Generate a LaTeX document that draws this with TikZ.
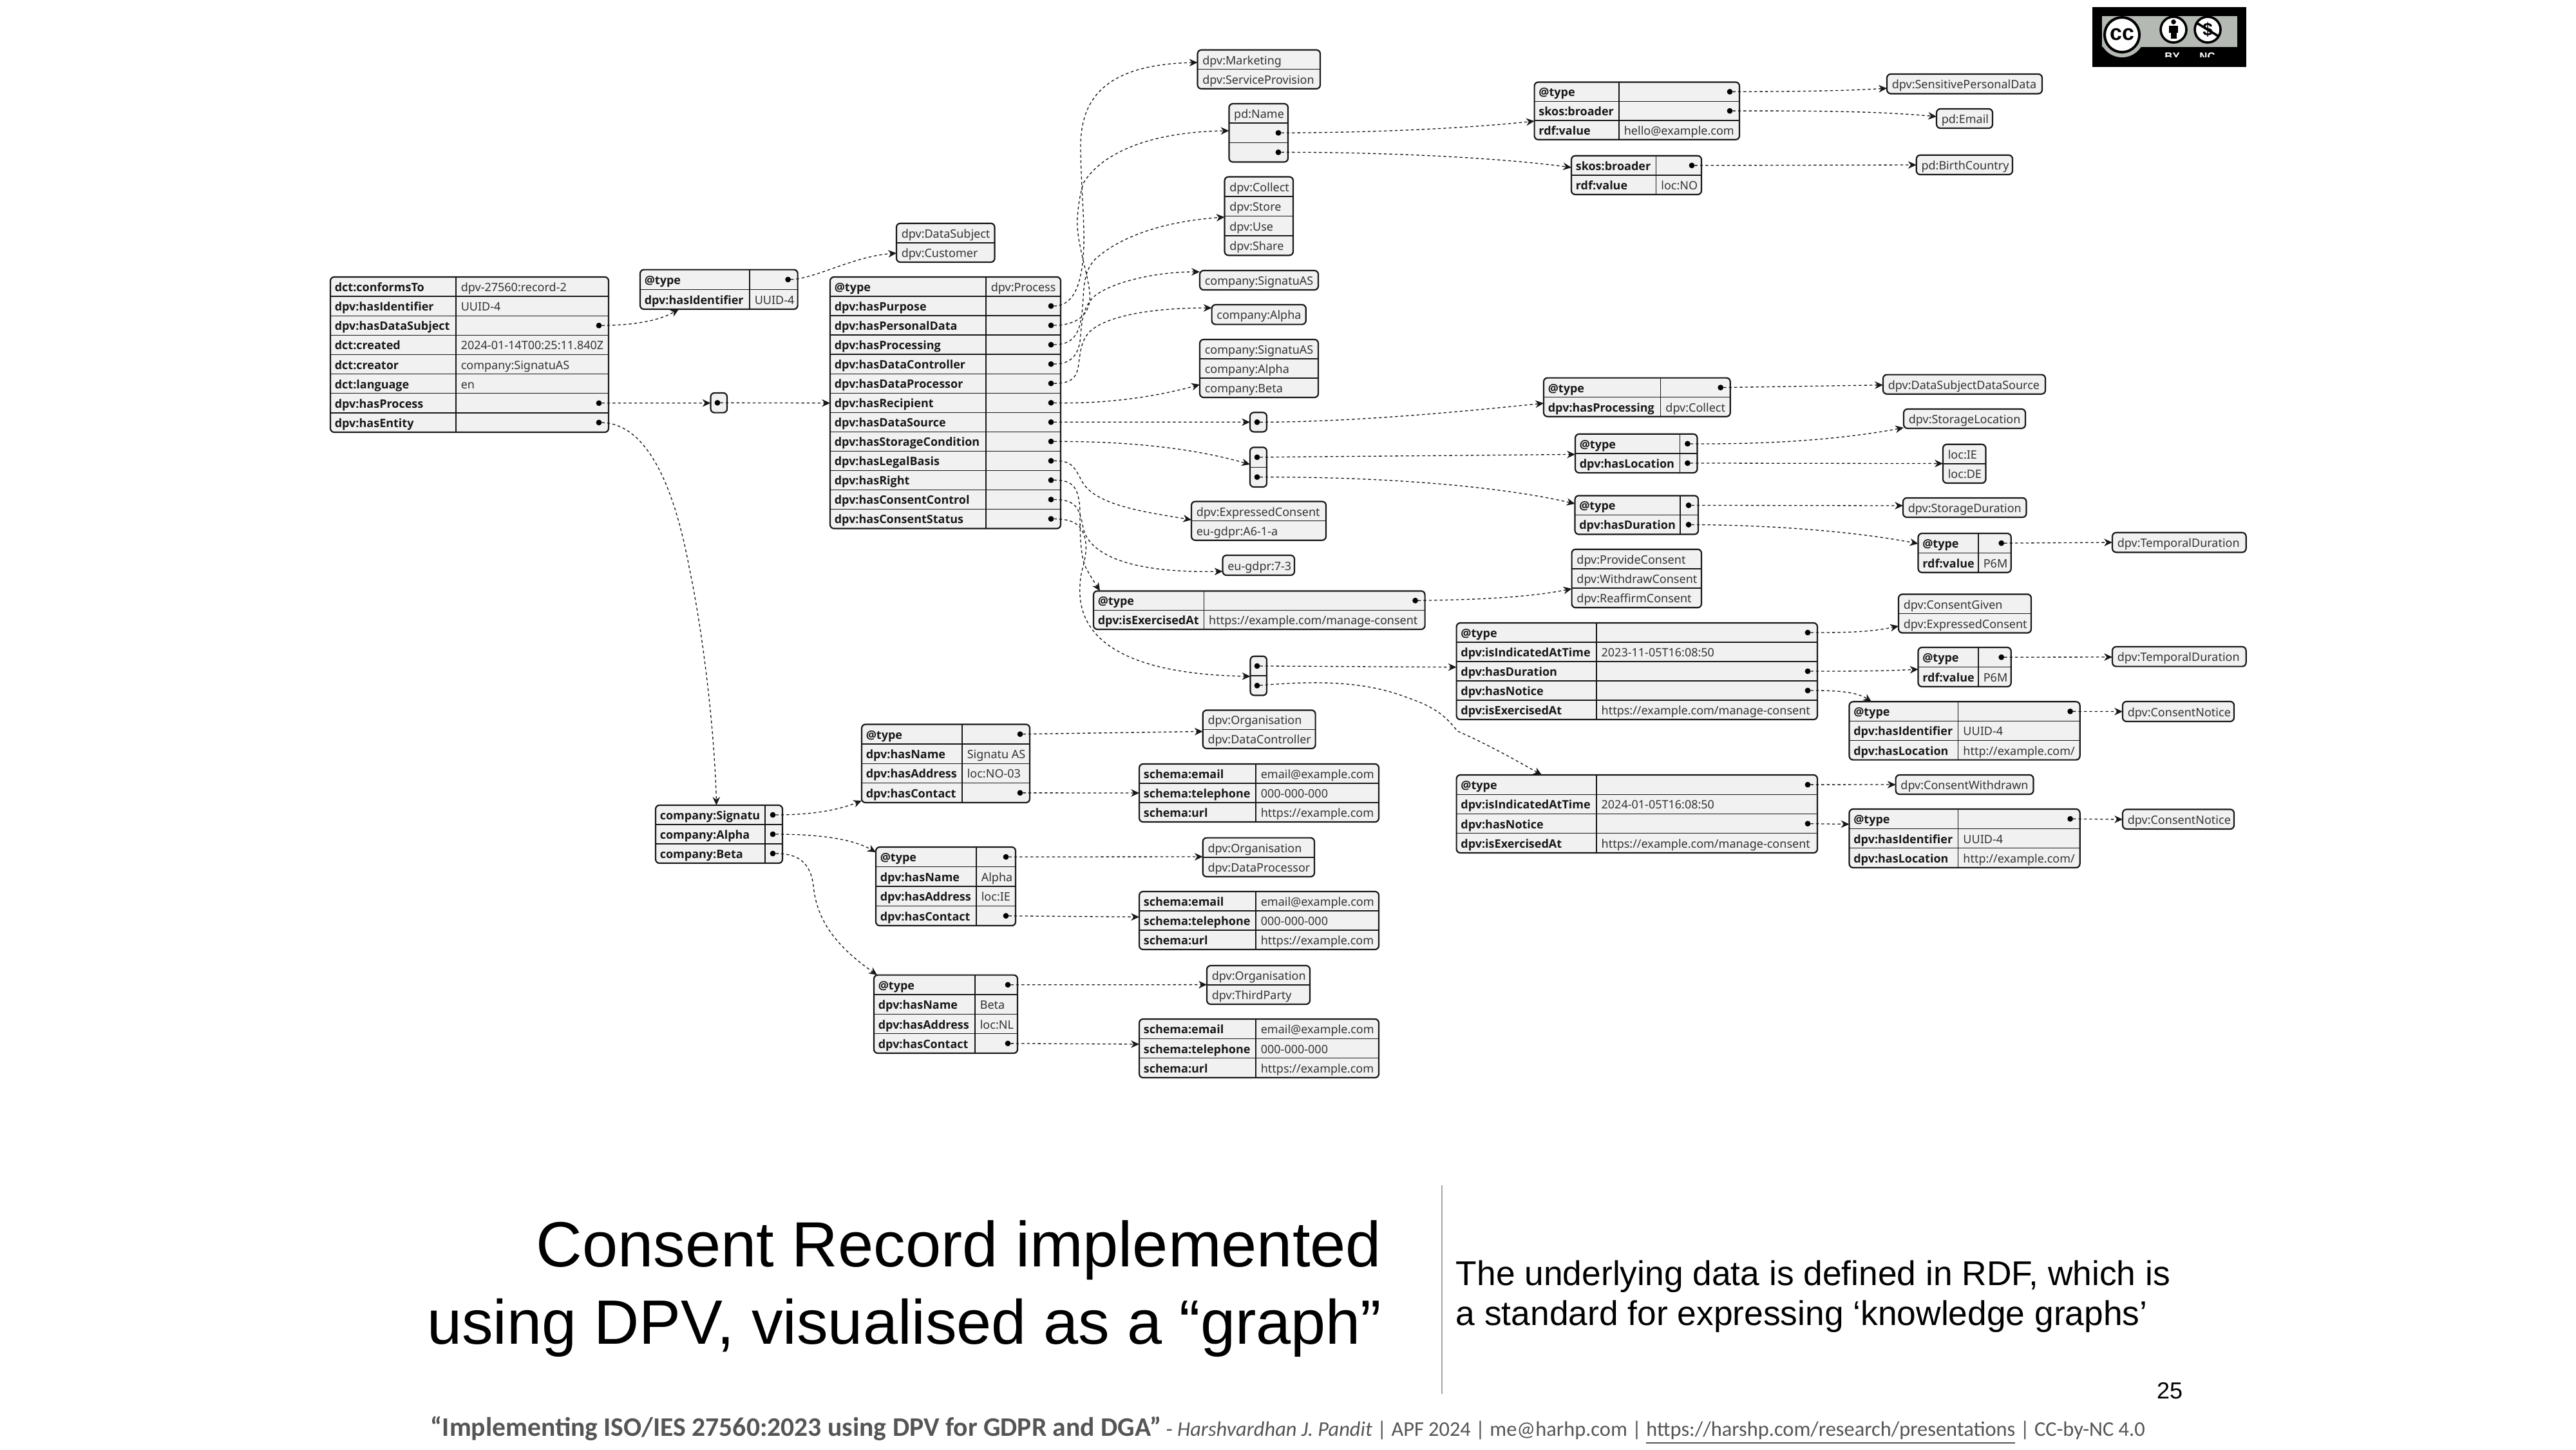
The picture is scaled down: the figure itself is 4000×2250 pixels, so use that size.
\documentclass[tikz,border=0pt]{standalone}
\usepackage{fontspec}
\usetikzlibrary{arrows.meta,calc}
\setmainfont{Noto Sans}
\newfontfamily\keyf{Open Sans}[BoldFont=* Bold]
\newfontfamily\titlefont{Liberation Sans}
\newfontfamily\footfont{Carlito}
\definecolor{ink}{HTML}{181818}
\definecolor{valc}{HTML}{333333}
\definecolor{cellfill}{HTML}{F1F1F1}
\definecolor{ccgrey}{HTML}{B4BAB3}
\definecolor{footc}{HTML}{555555}
\tikzset{
  boxn/.style={draw=ink,fill=cellfill,line width=0.55pt,rounded corners=1.5pt,inner sep=0pt,outer sep=0pt,shape=rectangle},
  sepl/.style={draw=ink,line width=0.34pt},
  keytxt/.style={anchor=base west,inner sep=0pt,text=ink,font=\keyf\fontsize{4.5}{6}\selectfont\bfseries},
  valtxt/.style={anchor=base west,inner sep=0pt,text=valc,font=\fontsize{4.5}{6}\selectfont},
  dotn/.style={circle,fill=black,draw=none,minimum size=2.2pt,inner sep=0pt,outer sep=0pt},
  conn/.style={draw=ink,line width=0.33pt,dash pattern=on 1.1pt off 1.0pt,-{Stealth[length=3.2pt,width=2.9pt,inset=1pt]}},
}
\newcommand\Tbl[8]{%
  \pgfmathsetmacro\rowH{(#6-#5)/#7}%
  \node[boxn,minimum width={(#4-#2)*0.25pt},minimum height={(#6-#5)*0.25pt}] (#1) at ({(#2+#4)/2},{(#5+#6)/2}) {};
  \draw[sepl] (#3,#5) -- (#3,#6);
  \foreach \ky/\vl [count=\i] in {#8} {
    \pgfmathsetmacro\yc{#5+(\i-0.5)*\rowH}
    \pgfmathsetmacro\yl{#5+(\i-1)*\rowH}
    \ifnum\i>1 \draw[sepl] (#2,\yl) -- (#4,\yl); \fi
    \node[keytxt] (#1-k\i) at (#2+6,\yc+7.5) {\ky};
    \ifx\vl\dotmark
      \node[dotn] (#1-\i) at (#4-15,\yc) {};
    \else
      \node[valtxt] (#1-\i) at (#3+7,\yc+7.5) {\vl};
    \fi
  }
}
\newcommand\Lst[7]{%
  \pgfmathsetmacro\rowH{(#5-#4)/#6}%
  \node[boxn,minimum width={(#3-#2)*0.25pt},minimum height={(#5-#4)*0.25pt}] (#1) at ({(#2+#3)/2},{(#4+#5)/2}) {};
  \foreach \vl [count=\i] in {#7} {
    \pgfmathsetmacro\yc{#4+(\i-0.5)*\rowH}
    \pgfmathsetmacro\yl{#4+(\i-1)*\rowH}
    \ifnum\i>1 \draw[sepl] (#2,\yl) -- (#3,\yl); \fi
    \ifx\vl\dotmark
      \node[dotn] (#1-\i) at (#3-15,\yc) {};
    \else
      \node[valtxt] (#1-\i) at (#2+7,\yc+7.5) {\vl};
    \fi
  }
}
\def\dotmark{*}
\begin{document}
\begin{tikzpicture}[x=0.25pt,y=-0.25pt]
\useasboundingbox (0,0) rectangle (4000,2250);
\fill[white] (0,0) rectangle (4000,2250);

% ---- tables
\Tbl{Main}{513}{708}{945}{430}{671}{8}{dct:conformsTo/dpv-27560:record-2,dpv:hasIdentifier/UUID-4,dpv:hasDataSubject/*,dct:created/2024-01-14T00:25:11.840Z,dct:creator/company:SignatuAS,dct:language/en,dpv:hasProcess/*,dpv:hasEntity/*}
\Tbl{Subj}{994}{1164}{1238.6}{418.6}{480}{2}{@type/*,dpv:hasIdentifier/UUID-4}
\Lst{SubjT}{1392}{1544.5}{346.7}{407}{2}{dpv:DataSubject,dpv:Customer}
\Tbl{Proc}{1289}{1531}{1647}{430}{820.5}{13}{@type/dpv:Process,dpv:hasPurpose/*,dpv:hasPersonalData/*,dpv:hasProcessing/*,dpv:hasDataController/*,dpv:hasDataProcessor/*,dpv:hasRecipient/*,dpv:hasDataSource/*,dpv:hasStorageCondition/*,dpv:hasLegalBasis/*,dpv:hasRight/*,dpv:hasConsentControl/*,dpv:hasConsentStatus/*}
\Lst{NA}{1103.5}{1129}{610}{640.6}{1}{*}
\Lst{Purp}{1859.5}{2050}{77.5}{137.8}{2}{dpv:Marketing,dpv:ServiceProvision}
\Lst{PD}{1908.4}{2000}{161}{251.5}{3}{pd:Name,*,*}
\Lst{Ops}{1901.5}{2008}{274.5}{396.4}{4}{dpv:Collect,dpv:Store,dpv:Use,dpv:Share}
\Lst{CoA}{1863}{2047}{420}{450}{1}{company:SignatuAS}
\Lst{CoB}{1881.6}{2027.8}{473}{503.6}{1}{company:Alpha}
\Lst{CoC}{1863}{2047}{527}{617}{3}{company:SignatuAS,company:Alpha,company:Beta}
\Lst{NB}{1941}{1967}{640.3}{670.4}{1}{*}
\Lst{NC}{1941}{1967}{694.4}{756}{2}{*,*}
\Lst{Legal}{1850}{2059}{778.5}{838.7}{2}{dpv:ExpressedConsent,eu-gdpr:A6-1-a}
\Lst{Art}{1898.5}{2010}{862}{893}{1}{eu-gdpr:7-3}
\Tbl{Mail}{2382.6}{2514}{2701}{127.5}{216.8}{3}{@type/*,skos:broader/*,rdf:value/hello@example.com}
\Tbl{Brd}{2440}{2571.6}{2642}{241.8}{302}{2}{skos:broader/*,rdf:value/loc:NO}
\Tbl{Src}{2397}{2578.6}{2686.7}{586.6}{646.7}{2}{@type/*,dpv:hasProcessing/dpv:Collect}
\Tbl{Loc}{2446}{2608.4}{2635.4}{673.8}{734}{2}{@type/*,dpv:hasLocation/*}
\Tbl{Dur}{2445.5}{2609}{2637}{769.4}{829.5}{2}{@type/*,dpv:hasDuration/*}
\Lst{Sens}{2930}{3171}{115}{145.4}{1}{dpv:SensitivePersonalData}
\Lst{Email}{3007}{3094}{169}{199}{1}{pd:Email}
\Lst{Birth}{2975.7}{3125}{240.8}{271}{1}{pd:BirthCountry}
\Lst{DSDS}{2924}{3176}{581.6}{611.7}{1}{dpv:DataSubjectDataSource}
\Lst{SLoc}{2956}{3145}{635}{665}{1}{dpv:StorageLocation}
\Lst{LocL}{3017}{3083.4}{689.8}{750}{2}{loc:IE,loc:DE}
\Lst{SDur}{2955}{3146.5}{772.9}{803}{1}{dpv:StorageDuration}
\Tbl{Six}{2978.5}{3072}{3122.7}{828}{888.8}{2}{@type/*,rdf:value/P6M}
\Lst{TD}{3280}{3487.6}{826.8}{857.4}{1}{dpv:TemporalDuration}
\Tbl{Exer}{1698}{1869.4}{2212.6}{917.4}{977}{2}{@type/*,dpv:isExercisedAt/{https://example.com/manage-consent}}
\Lst{Prov}{2440.6}{2642}{852.7}{943.3}{3}{dpv:ProvideConsent,dpv:WithdrawConsent,dpv:ReaffirmConsent}
\Lst{ND}{1941.5}{1967}{1018.7}{1079.5}{2}{*,*}
\Tbl{StA}{2261.6}{2478.8}{2822}{967}{1117}{5}{@type/*,dpv:isIndicatedAtTime/2023-11-05T16:08:50,dpv:hasDuration/*,dpv:hasNotice/*,dpv:isExercisedAt/{https://example.com/manage-consent}}
\Tbl{StB}{2261.6}{2478.8}{2822}{1203}{1324}{4}{@type/*,dpv:isIndicatedAtTime/2024-01-05T16:08:50,dpv:hasNotice/*,dpv:isExercisedAt/{https://example.com/manage-consent}}
\Lst{Given}{2948}{3154}{922.5}{982.5}{2}{dpv:ConsentGiven,dpv:ExpressedConsent}
\Tbl{SixB}{2978.5}{3072}{3122.7}{1005}{1066}{2}{@type/*,rdf:value/P6M}
\Lst{TDB}{3280}{3487.6}{1004}{1034.6}{1}{dpv:TemporalDuration}
\Tbl{NotA}{2871.5}{3040.6}{3229.6}{1089.3}{1179.6}{3}{@type/*,dpv:hasIdentifier/UUID-4,dpv:hasLocation/{http://example.com/}}
\Lst{CNA}{3296}{3469}{1089}{1120}{1}{dpv:ConsentNotice}
\Lst{Wdr}{2943.6}{3157.5}{1203}{1233}{1}{dpv:ConsentWithdrawn}
\Tbl{NotB}{2871.5}{3040.6}{3229.6}{1256}{1347}{3}{@type/*,dpv:hasIdentifier/UUID-4,dpv:hasLocation/{http://example.com/}}
\Lst{CNB}{3296}{3469}{1256.5}{1287}{1}{dpv:ConsentNotice}
\Tbl{Comp}{1018}{1188}{1215}{1250}{1340}{3}{company:Signatu/*,company:Alpha/*,company:Beta/*}
\Tbl{Sig}{1338}{1494}{1599}{1124.5}{1246}{4}{@type/*,dpv:hasName/Signatu AS,dpv:hasAddress/loc:NO-03,dpv:hasContact/*}
\Tbl{Alp}{1360}{1516}{1577}{1315}{1437}{4}{@type/*,dpv:hasName/Alpha,dpv:hasAddress/loc:IE,dpv:hasContact/*}
\Tbl{Bet}{1357}{1514}{1580}{1513.6}{1635}{4}{@type/*,dpv:hasName/Beta,dpv:hasAddress/loc:NL,dpv:hasContact/*}
\Lst{OrgA}{1867.7}{2042.6}{1102.5}{1162}{2}{dpv:Organisation,dpv:DataController}
\Lst{OrgB}{1867.7}{2041}{1300.6}{1361}{2}{dpv:Organisation,dpv:DataProcessor}
\Lst{OrgC}{1874}{2034}{1499}{1559}{2}{dpv:Organisation,dpv:ThirdParty}
\Tbl{SchA}{1769}{1950}{2141}{1186}{1276}{3}{schema:email/email@example.com,schema:telephone/000-000-000,schema:url/{https://example.com}}
\Tbl{SchB}{1769}{1950}{2141}{1384}{1474}{3}{schema:email/email@example.com,schema:telephone/000-000-000,schema:url/{https://example.com}}
\Tbl{SchC}{1769}{1950}{2141}{1582}{1673}{3}{schema:email/email@example.com,schema:telephone/000-000-000,schema:url/{https://example.com}}

% ---- connectors from the record
\draw[conn] (Main-3) .. controls (975,505) and (1020,500) .. (Subj.south -| 1054,0);
\draw[conn] (Subj-1) .. controls (1265,433) and (1325,398) .. (SubjT.west |- 0,393);
\draw[conn] (Main-7) -- (NA.west |- 0,625.7);
\draw[conn] (NA-1) -- (Proc.west |- 0,625.7);
\draw[conn] (Main-8) .. controls (990,657) and (1040,720) .. (1070,880) .. controls (1095,1000) and (1110,1150) .. (Comp.north -| 1112.5,0);

% ---- connectors from the process
\draw[conn] (Proc-2) .. controls (1668,475) and (1681,440) .. (1683,380) .. controls (1684,340) and (1678,280) .. (1678,227) .. controls (1678,150) and (1720,100) .. (Purp.west |- 0,97);
\draw[conn] (Proc-3) .. controls (1670,505) and (1696,490) .. (1692,453) .. controls (1688,420) and (1670,370) .. (1673,337) .. controls (1675,310) and (1680,290) .. (1683,283) .. controls (1710,240) and (1780,205) .. (PD.west |- 0,203);
\draw[conn] (Proc-4) .. controls (1665,535) and (1676,520) .. (1680,487) .. controls (1684,450) and (1680,425) .. (1700,403) .. controls (1730,375) and (1790,345) .. (Ops.west |- 0,337);
\draw[conn] (Proc-5) .. controls (1660,565) and (1676,555) .. (1678,520) .. controls (1680,490) and (1685,475) .. (1697,462) .. controls (1720,440) and (1790,422) .. (CoA.west |- 0,422);
\draw[conn] (Proc-6) .. controls (1660,595) and (1672,590) .. (1675,565) .. controls (1678,540) and (1680,530) .. (1690,517) .. controls (1715,490) and (1790,478) .. (CoB.west |- 0,478);
\draw[conn] (Proc-7) .. controls (1700,627) and (1780,620) .. (CoC.west |- 0,597);
\draw[conn] (Proc-8) -- (NB.west |- 0,655.3);
\draw[conn] (Proc-9) .. controls (1750,685) and (1850,695) .. (NC.west |- 0,721);
\draw[conn] (Proc-10) .. controls (1665,715) and (1668,725) .. (1680,747) .. controls (1700,785) and (1780,795) .. (Legal.west |- 0,807);
\draw[conn] (Proc-11) .. controls (1665,745) and (1677,755) .. (1677,800) .. controls (1677,850) and (1680,870) .. (1688,885) .. controls (1695,897) and (1700,905) .. (Exer.north -| 1708,0);
\draw[conn] (Proc-12) .. controls (1668,775.7) and (1676,785) .. (1682,820) .. controls (1690,855) and (1740,890) .. (Art.west |- 0,887);
\draw[conn] (Proc-13) .. controls (1668,805.7) and (1680,815) .. (1685,837) .. controls (1690,860) and (1680,880) .. (1678,897) .. controls (1673,940) and (1670,1045) .. (ND.west |- 0,1050);

% ---- personal data
\draw[conn] (PD-2) .. controls (2120,206) and (2270,200) .. (Mail.west |- 0,188);
\draw[conn] (PD-3) .. controls (2150,236) and (2330,245) .. (Brd.west |- 0,260);
\draw[conn] (Mail-1) .. controls (2760,142) and (2850,142) .. (Sens.west |- 0,137);
\draw[conn] (Mail-2) .. controls (2800,172) and (2910,172) .. (Email.west |- 0,181);
\draw[conn] (Brd-1) -- (Birth.west |- 0,256);

% ---- data source, storage
\draw[conn] (NB-1) .. controls (2100,655) and (2260,640) .. (Src.west |- 0,626);
\draw[conn] (Src-1) -- (DSDS.west |- 0,597.7);
\draw[conn] (NC-1) -- (Loc.west |- 0,705.4);
\draw[conn] (NC-2) .. controls (2150,740) and (2330,755) .. (Dur.west |- 0,782);
\draw[conn] (Loc-1) .. controls (2750,690) and (2860,682) .. (SLoc.west |- 0,664);
\draw[conn] (Loc-2) -- (LocL.west |- 0,719.6);
\draw[conn] (Dur-1) -- (SDur.west |- 0,785);
\draw[conn] (Dur-2) .. controls (2750,815) and (2880,825) .. (Six.west |- 0,844);
\draw[conn] (Six-1) -- (TD.west |- 0,842);

% ---- consent control and status
\draw[conn] (Exer-1) .. controls (2290,931) and (2370,928) .. (Prov.west |- 0,914);
\draw[conn] (ND-1) -- (StA.west |- 0,1035.7);
\draw[conn] (ND-2) .. controls (2030,1058) and (2110,1055) .. (2180,1081) .. controls (2220,1095) and (2240,1105) .. (2263,1135) .. controls (2305,1153) and (2350,1178) .. (StB.north -| 2394,0);
\draw[conn] (StA-1) .. controls (2860,982) and (2900,982) .. (Given.west |- 0,972);
\draw[conn] (StA-3) .. controls (2870,1042) and (2920,1042) .. (SixB.west |- 0,1039);
\draw[conn] (StA-4) .. controls (2840,1072) and (2880,1072) .. (NotA.north -| 2906,0);
\draw[conn] (SixB-1) -- (TDB.west |- 0,1020);
\draw[conn] (NotA-1) -- (CNA.west |- 0,1104.6);
\draw[conn] (StB-1) -- (Wdr.west |- 0,1218);
\draw[conn] (StB-3) -- (NotB.west |- 0,1279.5);
\draw[conn] (NotB-1) -- (CNB.west |- 0,1272);

% ---- companies
\draw[conn] (Comp-1) .. controls (1260,1265) and (1300,1258) .. (Sig.west |- 0,1243);
\draw[conn] (Comp-2) .. controls (1260,1295) and (1320,1300) .. (Alp.west |- 0,1323);
\draw[conn] (Comp-3) .. controls (1235,1325) and (1258,1335) .. (1263,1375) .. controls (1268,1430) and (1300,1470) .. (Bet.north -| 1362,0);
\draw[conn] (Sig-1) -- (OrgA.west |- 0,1135.5);
\draw[conn] (Sig-4) -- (SchA.west |- 0,1231);
\draw[conn] (Alp-1) -- (OrgB.west |- 0,1330);
\draw[conn] (Alp-4) -- (SchB.west |- 0,1423.5);
\draw[conn] (Bet-1) -- (OrgC.west |- 0,1528.6);
\draw[conn] (Bet-4) -- (SchC.west |- 0,1621);

% ---- licence badge
\fill[black] (3249,11) rectangle (3488,104);
\fill[ccgrey] (3264,25) rectangle (3474,73);
\begin{scope}
  \clip (3264,60) rectangle (3340,89);
  \fill[ccgrey] (3295,54) circle[radius=35];
\end{scope}
\fill[white,draw=black,line width=1pt] (3295,54) circle[radius=27];
\node[inner sep=0pt,text=black,font=\titlefont\fontsize{8.5}{9}\selectfont\bfseries] (ccCC) at (3295,54) {cc};
\fill[white,draw=black,line width=0.9pt] (3375,46) circle[radius=20];
\fill[black] (3375,34) circle[radius=3.8];
\fill[black] (3368,39.5) rectangle (3382,51);
\fill[black] (3370.5,51) rectangle (3379.5,60);
\fill[white,draw=black,line width=0.9pt] (3428,46) circle[radius=20];
\node[inner sep=0pt,text=black,font=\titlefont\fontsize{7}{8}\selectfont\bfseries] (ccD) at (3428,46) {\$};
\draw[black,line width=0.9pt] (3410,35) -- (3446,57);
\node[anchor=base,inner sep=0pt,text=white,font=\titlefont\fontsize{4.2}{5}\selectfont\bfseries] (ccB) at (3373,93) {BY};
\node[anchor=base,inner sep=0pt,text=white,font=\titlefont\fontsize{4.2}{5}\selectfont\bfseries] (ccN) at (3427.5,93) {NC};
\fill[black] (3249,89) rectangle (3488,104);

% ---- slide text
\node[anchor=base east,inner sep=0pt,font=\titlefont\fontsize{24.8}{30}\selectfont] (titleA) at (2146,1966) {Consent Record implemented};
\node[anchor=base east,inner sep=0pt,font=\titlefont\fontsize{24.3}{30}\selectfont] (titleB) at (2146,2086) {using DPV, visualised as a “graph”};
\draw[black!35,line width=0.5pt] (2239,1840) -- (2239,2164);
\node[anchor=base west,inner sep=0pt,font=\titlefont\fontsize{13.34}{15}\selectfont] (sideA) at (2260,1995) {The underlying data is defined in RDF, which is};
\node[anchor=base west,inner sep=0pt,font=\titlefont\fontsize{13.34}{15}\selectfont] (sideB) at (2260,2057) {a standard for expressing ‘knowledge graphs’};
\node[anchor=base east,inner sep=0pt,font=\titlefont\fontsize{9}{10}\selectfont] (pageno) at (3390,2171) {25};
\node[anchor=base west,inner sep=0pt,text=footc,font=\footfont\fontsize{8.1}{11}\selectfont] (footer) at (668,2229) {\fontsize{10.4}{11}\selectfont\textbf{“Implementing ISO/IES 27560:2023 using DPV for GDPR and DGA”}\fontsize{8.1}{11}\selectfont{} - \textit{Harshvardhan J. Pandit} | APF 2024 | me@harhp.com | \underline{https://harshp.com/research/presentations} | CC-by-NC 4.0};
\end{tikzpicture}
\end{document}
